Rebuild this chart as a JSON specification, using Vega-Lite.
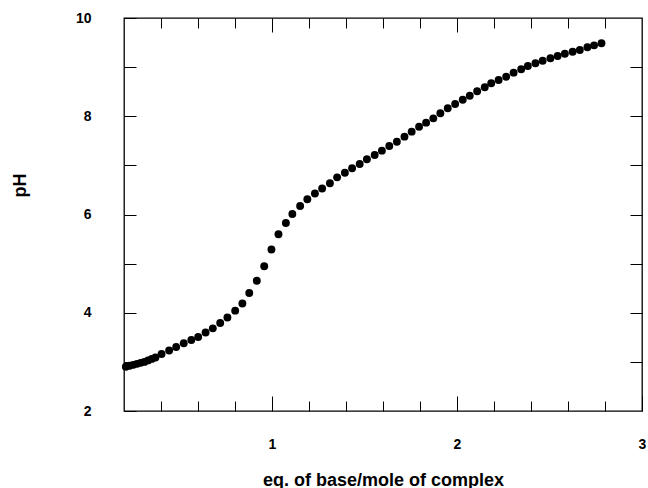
{
  "$schema": "https://vega.github.io/schema/vega-lite/v6.json",
  "autosize": "none",
  "width": 518,
  "height": 393,
  "padding": {"left": 124, "top": 18, "right": 6, "bottom": 77},
  "background": "white",
  "config": {
    "view": {"stroke": "black", "strokeWidth": 1.3},
    "axis": {"domain": false, "grid": false, "tickColor": "black", "tickWidth": 1, "labelColor": "black", "labelFont": "Liberation Sans", "labelFontSize": 14, "labelFontWeight": "bold", "labelFlush": false, "titleFont": "Liberation Sans", "titleColor": "black"}
  },
  "data": {"values": [
    {"eq": 0.21, "pH": 2.90}, {"eq": 0.23, "pH": 2.92}, {"eq": 0.25, "pH": 2.94}, {"eq": 0.27, "pH": 2.96},
    {"eq": 0.29, "pH": 2.98}, {"eq": 0.31, "pH": 3.00}, {"eq": 0.33, "pH": 3.03}, {"eq": 0.35, "pH": 3.06},
    {"eq": 0.37, "pH": 3.09},
    {"eq": 0.403, "pH": 3.16}, {"eq": 0.444, "pH": 3.232}, {"eq": 0.482, "pH": 3.303}, {"eq": 0.523, "pH": 3.378},
    {"eq": 0.564, "pH": 3.445}, {"eq": 0.601, "pH": 3.506}, {"eq": 0.641, "pH": 3.598}, {"eq": 0.680, "pH": 3.683},
    {"eq": 0.720, "pH": 3.791}, {"eq": 0.759, "pH": 3.903}, {"eq": 0.801, "pH": 4.042}, {"eq": 0.840, "pH": 4.188},
    {"eq": 0.877, "pH": 4.402}, {"eq": 0.918, "pH": 4.652}, {"eq": 0.958, "pH": 4.946}, {"eq": 0.997, "pH": 5.288},
    {"eq": 1.035, "pH": 5.597}, {"eq": 1.075, "pH": 5.827}, {"eq": 1.110, "pH": 6.010}, {"eq": 1.152, "pH": 6.173},
    {"eq": 1.191, "pH": 6.311}, {"eq": 1.232, "pH": 6.427}, {"eq": 1.271, "pH": 6.529}, {"eq": 1.313, "pH": 6.635},
    {"eq": 1.352, "pH": 6.757}, {"eq": 1.394, "pH": 6.851}, {"eq": 1.433, "pH": 6.941}, {"eq": 1.474, "pH": 7.028},
    {"eq": 1.513, "pH": 7.124}, {"eq": 1.555, "pH": 7.211}, {"eq": 1.594, "pH": 7.299}, {"eq": 1.634, "pH": 7.394},
    {"eq": 1.675, "pH": 7.482}, {"eq": 1.716, "pH": 7.584}, {"eq": 1.755, "pH": 7.686}, {"eq": 1.795, "pH": 7.787},
    {"eq": 1.833, "pH": 7.869}, {"eq": 1.872, "pH": 7.958}, {"eq": 1.910, "pH": 8.060}, {"eq": 1.950, "pH": 8.162},
    {"eq": 1.990, "pH": 8.249}, {"eq": 2.031, "pH": 8.337}, {"eq": 2.069, "pH": 8.418}, {"eq": 2.109, "pH": 8.508},
    {"eq": 2.150, "pH": 8.590}, {"eq": 2.185, "pH": 8.671}, {"eq": 2.225, "pH": 8.738}, {"eq": 2.266, "pH": 8.805},
    {"eq": 2.306, "pH": 8.887}, {"eq": 2.347, "pH": 8.956}, {"eq": 2.383, "pH": 9.023}, {"eq": 2.424, "pH": 9.078},
    {"eq": 2.463, "pH": 9.131}, {"eq": 2.505, "pH": 9.180}, {"eq": 2.544, "pH": 9.226}, {"eq": 2.583, "pH": 9.273},
    {"eq": 2.625, "pH": 9.314}, {"eq": 2.664, "pH": 9.349}, {"eq": 2.705, "pH": 9.404}, {"eq": 2.741, "pH": 9.444},
    {"eq": 2.781, "pH": 9.485}
  ]},
  "layer": [
    {
      "mark": {"type": "point", "filled": true, "color": "black", "opacity": 1, "size": 62, "strokeWidth": 0},
      "encoding": {
        "x": {"field": "eq", "type": "quantitative", "scale": {"domain": [0.2, 3], "nice": false, "zero": false},
          "axis": {"orient": "bottom", "values": [1, 2, 3], "tickSize": -15, "labelPadding": 41, "labelBaseline": "top", "format": "d",
            "title": "eq. of base/mole of complex", "titleFontSize": 18, "titleFontWeight": "bold", "titleX": 259, "titleY": 74, "titleBaseline": "alphabetic", "titleAlign": "center"}},
        "y": {"field": "pH", "type": "quantitative", "scale": {"domain": [2, 10], "nice": false, "zero": false},
          "axis": {"orient": "left", "values": [2, 3, 4, 5, 6, 7, 8, 9, 10], "tickSize": -12, "labelPadding": 45,
            "labelExpr": "datum.value % 2 == 0 ? datum.label : ''",
            "title": "pH", "titleFontSize": 18, "titleFontWeight": "bold", "titleX": -104, "titleY": 167, "titleAngle": -90, "titleAlign": "center", "titleBaseline": "middle"}}
      }
    },
    {
      "mark": {"type": "point", "opacity": 0},
      "encoding": {
        "x": {"field": "eq", "type": "quantitative",
          "axis": {"orient": "bottom", "values": [0.4, 0.6, 0.8, 1.2, 1.4, 1.6, 1.8, 2.2, 2.4, 2.6, 2.8], "tickSize": -10, "labels": false, "title": null}},
        "y": {"field": "pH", "type": "quantitative",
          "axis": {"orient": "right", "values": [3, 4, 5, 6, 7, 8, 9], "tickSize": -12, "labels": false, "title": null}}
      }
    },
    {
      "mark": {"type": "point", "opacity": 0},
      "encoding": {
        "x": {"field": "eq", "type": "quantitative",
          "axis": {"orient": "top", "values": [0.4, 0.6, 0.8, 1.2, 1.4, 1.6, 1.8, 2.2, 2.4, 2.6, 2.8], "tickSize": -10, "labels": false, "title": null}},
        "y": {"field": "pH", "type": "quantitative", "axis": null}
      }
    },
    {
      "mark": {"type": "point", "opacity": 0},
      "encoding": {
        "x": {"field": "eq", "type": "quantitative",
          "axis": {"orient": "top", "values": [1, 2], "tickSize": -14, "labels": false, "title": null}},
        "y": {"field": "pH", "type": "quantitative", "axis": null}
      }
    }
  ],
  "resolve": {"axis": {"x": "independent", "y": "independent"}}
}
